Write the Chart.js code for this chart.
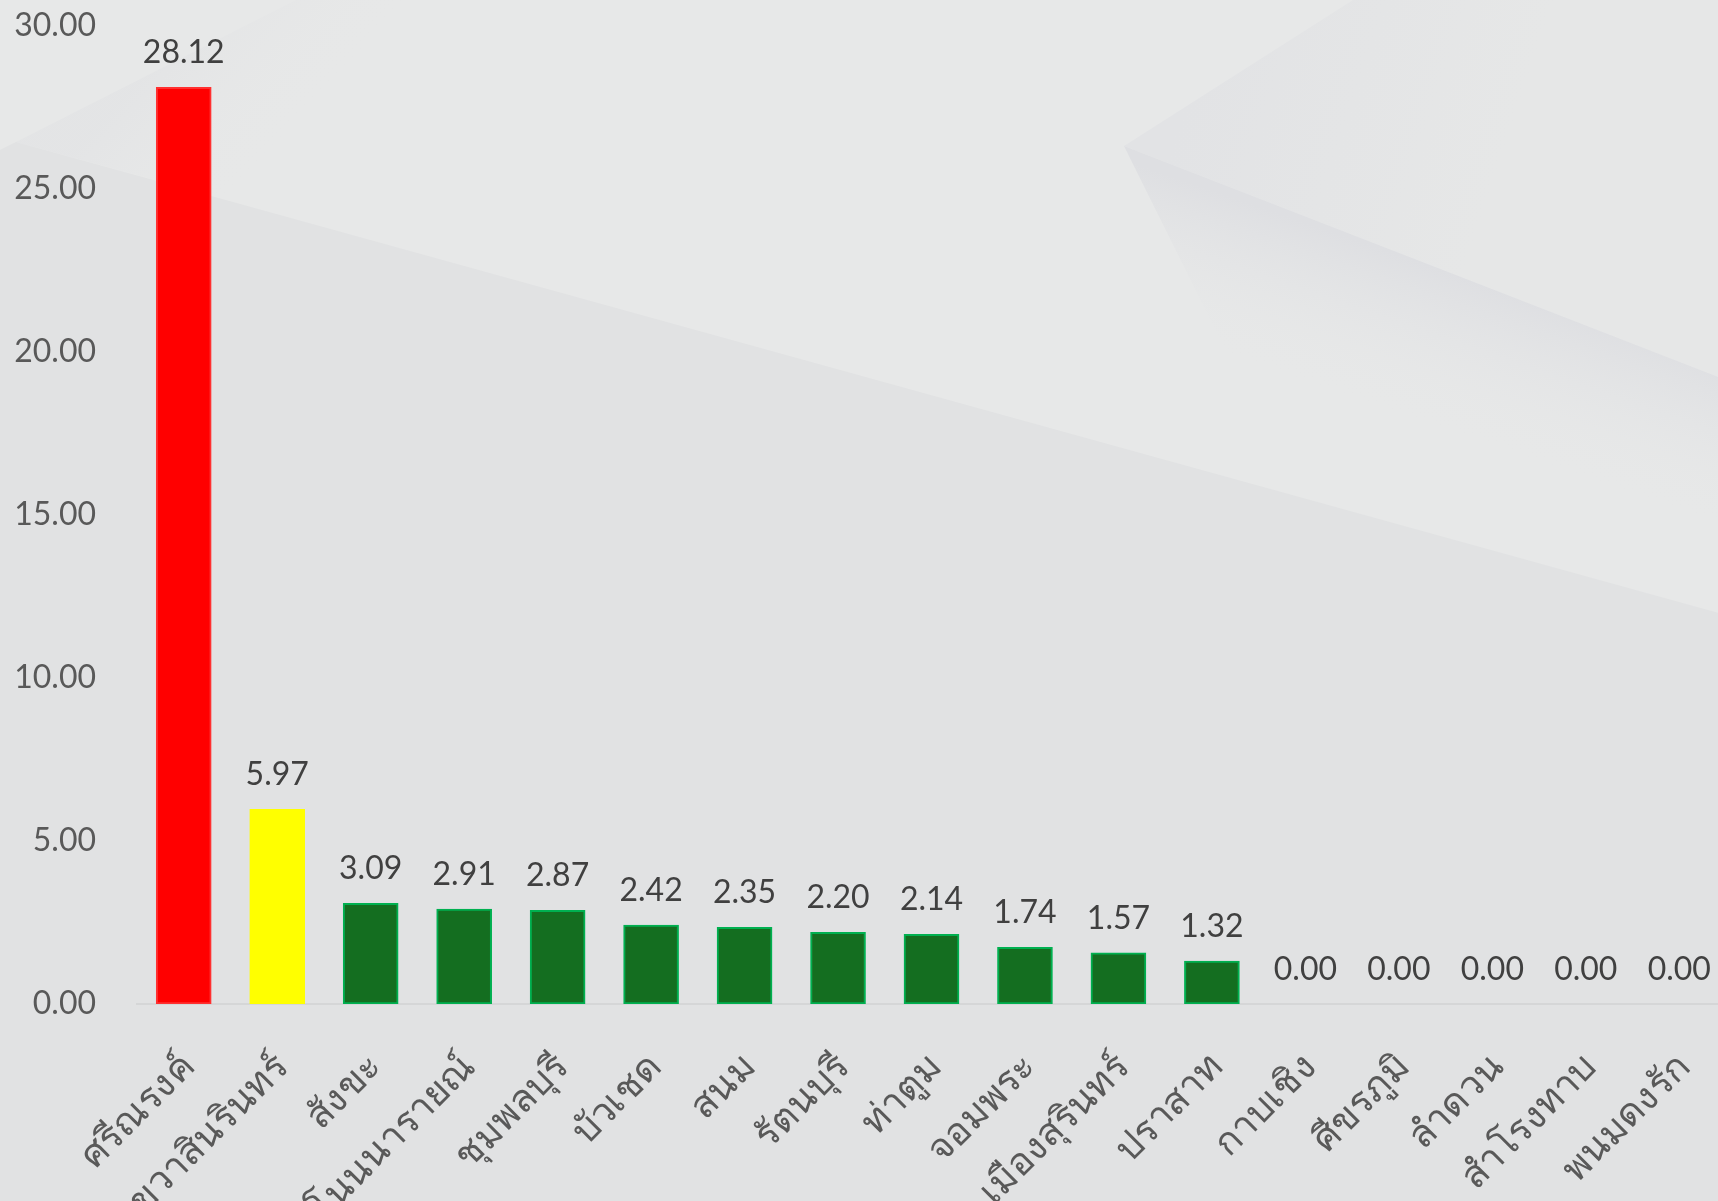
<!DOCTYPE html>
<html>
<head>
<meta charset="utf-8">
<script src="https://cdn.jsdelivr.net/npm/chart.js@4/dist/chart.umd.min.js"></script>
<style>
  html, body { margin: 0; padding: 0; overflow: hidden; background: #e3e4e5; }
  #wrap { width: 1726px; height: 1201px; }
</style>
</head>
<body>
<div id="wrap"><canvas id="chart" width="1726" height="1201"></canvas></div>
<script>
const districts = [
    'ศรีณรงค์', 'เขวาสินรินทร์', 'สังขะ', 'โนนนารายณ์', 'ชุมพลบุรี', 'บัวเชด',
    'สนม', 'รัตนบุรี', 'ท่าตูม', 'จอมพระ', 'เมืองสุรินทร์', 'ปราสาท',
    'กาบเชิง', 'ศีขรภูมิ', 'ลำดวน', 'สำโรงทาบ', 'พนมดงรัก'
];
const rates = [28.12, 5.97, 3.09, 2.91, 2.87, 2.42, 2.35, 2.20, 2.14, 1.74, 1.57, 1.32, 0, 0, 0, 0, 0];
const yTicks = [0, 5, 10, 15, 20, 25, 30];

// first bar red, second yellow, the rest green
const fillColors = rates.map((v, i) => i === 0 ? '#ff0000' : i === 1 ? '#ffff00' : '#146e20');
const edgeColors = rates.map((v, i) => i === 0 ? '#ff3030' : i === 1 ? '#ffff00' : '#00b050');

const numFont = 'Lato, "Noto Sans", sans-serif';

// folded-paper shading behind the plot
const backdrop = {
    id: 'backdrop',
    beforeDraw(chart) {
        const { ctx, width, height } = chart;
        ctx.save();
        ctx.fillStyle = '#e1e2e3';
        ctx.fillRect(0, 0, width, height);

        const poly = (pts, fill) => {
            ctx.beginPath();
            pts.forEach(([x, y], i) => i ? ctx.lineTo(x, y) : ctx.moveTo(x, y));
            ctx.closePath();
            ctx.fillStyle = fill;
            ctx.fill();
        };
        // light sheet above the long diagonal
        poly([[0, 0], [1726, 0], [1726, 615], [16, 142], [0, 150]], '#e7e8e8');

        // upper-right flap, darker along its left edge
        const flap = ctx.createLinearGradient(1200, 60, 1500, 160);
        flap.addColorStop(0, '#e2e3e5');
        flap.addColorStop(1, '#e6e7e7');
        poly([[1353, 0], [1726, 0], [1726, 380], [1124, 146]], flap);

        // soft shadow under the flap, starting at its tip
        const shade = ctx.createLinearGradient(1400, 255, 1350, 400);
        shade.addColorStop(0, 'rgba(222,223,226,1)');
        shade.addColorStop(1, 'rgba(231,232,232,0)');
        poly([[1124, 146], [1726, 380], [1726, 615], [1260, 420]], shade);

        // faint shade beside the top-left fold
        const fold = ctx.createLinearGradient(150, 70, 260, 170);
        fold.addColorStop(0, 'rgba(225,226,228,0.6)');
        fold.addColorStop(1, 'rgba(231,232,232,0)');
        poly([[16, 142], [296, 0], [450, 0], [450, 260]], fold);
        ctx.restore();
    }
};

// value printed above each bar
const valueLabels = {
    id: 'valueLabels',
    afterDatasetsDraw(chart) {
        const { ctx } = chart;
        const meta = chart.getDatasetMeta(0);
        ctx.save();
        ctx.font = '32px ' + numFont;
        ctx.fillStyle = '#404040';
        ctx.textAlign = 'center';
        ctx.textBaseline = 'alphabetic';
        meta.data.forEach((bar, i) => {
            ctx.fillText(rates[i].toFixed(2), bar.x, bar.y - 24);
        });
        ctx.restore();
    }
};

new Chart(document.getElementById('chart'), {
    type: 'bar',
    data: {
        labels: districts,
        datasets: [{
            data: rates,
            backgroundColor: fillColors,
            borderColor: edgeColors,
            borderWidth: 2,
            borderSkipped: false,
            barThickness: 55
        }]
    },
    options: {
        responsive: false,
        animation: false,
        devicePixelRatio: 1,
        layout: { autoPadding: false, padding: { top: 26, left: 0, right: 0, bottom: 0 } },
        plugins: {
            legend: { display: false },
            tooltip: { enabled: false }
        },
        scales: {
            x: {
                grid: { display: false, drawTicks: false },
                border: { display: true, color: '#d5d6d7', width: 2 },
                ticks: {
                    color: '#595959',
                    font: { family: numFont, size: 38 },
                    minRotation: 45,
                    maxRotation: 45,
                    padding: 40,
                    labelOffset: 4,
                    autoSkip: false
                },
                afterFit(scale) {
                    scale.height = 197;
                    scale.paddingLeft = 0;
                    scale.paddingRight = 0;
                }
            },
            y: {
                min: 0,
                max: 30,
                afterBuildTicks(scale) { scale.ticks = yTicks.map(v => ({ value: v })); },
                grid: { display: false, drawTicks: false },
                border: { display: false },
                ticks: {
                    color: '#595959',
                    font: { family: numFont, size: 32 },
                    padding: 41,
                    callback: v => v.toFixed(2)
                },
                afterFit(scale) {
                    scale.width = 137;
                    scale.paddingTop = 0;
                    scale.paddingBottom = 0;
                }
            }
        }
    },
    plugins: [backdrop, valueLabels]
});
</script>
</body>
</html>
